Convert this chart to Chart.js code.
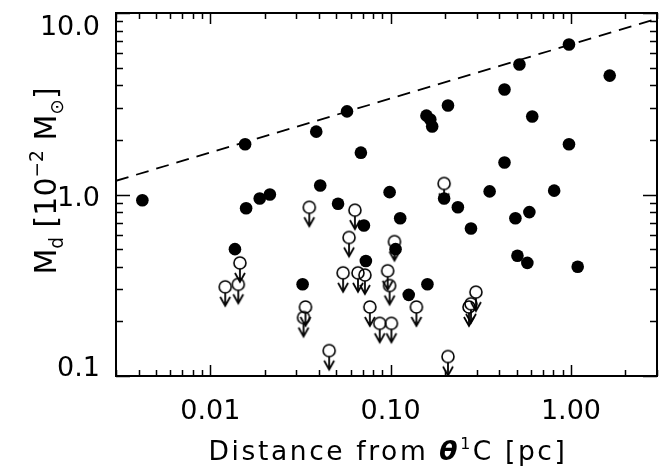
<!DOCTYPE html>
<html>
<head>
<meta charset="utf-8">
<script src="https://cdn.jsdelivr.net/npm/chart.js@4/dist/chart.umd.min.js"></script>
<style>
    html, body { margin: 0; padding: 0; background: #ffffff; }
    #wrap { width: 664px; height: 469px; }
</style>
</head>
<body>
<div id="wrap"><canvas id="mainGraph" width="664" height="469"></canvas></div>
<script>
// disks with a measured dust mass
const detectedDistance = [0.0042, 0.0156, 0.0158, 0.0188, 0.0214, 0.0137, 0.0325, 0.0387, 0.0573, 0.0684,
    0.0407, 0.0511, 0.0987, 0.113, 0.0711, 0.158, 0.166, 0.170, 0.208, 0.198,
    0.236, 0.279, 0.354, 0.428, 0.428, 0.518, 0.610, 0.492, 0.588, 0.807,
    0.975, 0.975, 1.64, 0.0729, 0.1065, 0.126, 0.160, 0.505, 0.573, 1.09]
const detectedMass = [0.93, 1.89, 0.84, 0.95, 1.00, 0.50, 0.32, 2.22, 2.87, 1.70,
    1.12, 0.89, 1.03, 0.74, 0.675, 2.72, 2.59, 2.37, 3.09, 0.95,
    0.85, 0.65, 1.04, 1.50, 3.79, 5.20, 2.69, 0.74, 0.80, 1.05,
    1.89, 6.71, 4.52, 0.43, 0.50, 0.28, 0.32, 0.46, 0.42, 0.40]

// upper limits (open circle + arrow)
const limitDistance = [0.0121, 0.0146, 0.0143, 0.0337, 0.0329, 0.0456, 0.0354, 0.0634, 0.0588, 0.0545,
    0.0659, 0.072, 0.0767, 0.087, 0.101, 0.0963, 0.0987, 0.105, 0.139, 0.208,
    0.198, 0.272, 0.279, 0.297]
const limitMass = [0.31, 0.42, 0.32, 0.24, 0.21, 0.138, 0.85, 0.82, 0.58, 0.37,
    0.37, 0.36, 0.24, 0.195, 0.195, 0.38, 0.315, 0.55, 0.24, 0.128,
    1.15, 0.24, 0.25, 0.29]

// dashed envelope
const lineDistance = [0.003, 3]
const lineMass = [1.19, 9.3]

const xRange = [0.003, 3]
const yRange = [0.1, 10]
const xTickValues = [0.01, 0.1, 1]
const xTickLabels = ["0.01", "0.10", "1.00"]
const yTickValues = [0.1, 1, 10]
const yTickLabels = ["0.1", "1.0", "10.0"]

const lineCanvas = document.getElementById("mainGraph")
const fontFamily = "'DejaVu Sans', sans-serif"

const toPoints = (xs, ys) => xs.map((x, i) => ({x: x, y: ys[i]}))

const isSame = (a, b) => Math.abs(Math.log10(a) - Math.log10(b)) < 1e-6
const isDecade = (v) => Math.abs(Math.log10(v) - Math.round(Math.log10(v))) < 1e-6

const logTicks = (min, max) => {
    const out = []
    for (let e = Math.floor(Math.log10(min)); e <= Math.ceil(Math.log10(max)); e++) {
        for (let k = 1; k < 10; k++) {
            const v = parseFloat((k * Math.pow(10, e)).toPrecision(6))
            if (v >= min * 0.9999 && v <= max * 1.0001) out.push(v)
        }
    }
    return out
}

const makeLimitMarker = () => {
    const c = document.createElement("canvas")
    c.width = 18
    c.height = 46
    const g = c.getContext("2d")
    const cx = 9, cy = 23
    g.strokeStyle = "#000000"
    g.lineWidth = 1.6
    g.beginPath()
    g.arc(cx, cy, 6, 0, Math.PI * 2)
    g.stroke()
    g.lineWidth = 1.8
    g.beginPath()
    g.moveTo(cx, cy + 6)
    g.lineTo(cx, cy + 19)
    g.stroke()
    g.beginPath()
    g.moveTo(cx - 5, cy + 10)
    g.lineTo(cx, cy + 19)
    g.lineTo(cx + 5, cy + 10)
    g.stroke()
    return c
}

// draws a title made of normal / sub / superscript pieces
const drawRich = (ctx, parts, size, spacing, cx, baseline) => {
    let total = 0
    const widths = parts.map((p) => {
        ctx.font = `${p.style || ""} ${size * (p.scale || 1)}px ${fontFamily}`
        ctx.letterSpacing = spacing + "px"
        const w = ctx.measureText(p.text).width
        total += w
        return w
    })
    let x = cx - total / 2
    parts.forEach((p, i) => {
        ctx.font = `${p.style || ""} ${size * (p.scale || 1)}px ${fontFamily}`
        ctx.letterSpacing = spacing + "px"
        ctx.fillText(p.text, x, baseline + (p.shift || 0) * size)
        x += widths[i]
    })
}

const framePlugin = {
    id: "frame",
    afterDraw(chart) {
        const {ctx, chartArea: a, scales} = chart
        ctx.save()
        ctx.strokeStyle = "#000000"
        ctx.lineWidth = 1.5
        ctx.beginPath()
        scales.x.ticks.forEach((t) => {
            const px = Math.round(scales.x.getPixelForValue(t.value)) + 0.5
            const len = isDecade(t.value) ? 11 : 6
            ctx.moveTo(px, a.bottom)
            ctx.lineTo(px, a.bottom - len)
            ctx.moveTo(px, a.top)
            ctx.lineTo(px, a.top + len)
        })
        scales.y.ticks.forEach((t) => {
            const py = Math.round(scales.y.getPixelForValue(t.value)) + 0.5
            const len = isDecade(t.value) ? 14 : 7
            ctx.moveTo(a.left, py)
            ctx.lineTo(a.left + len, py)
            ctx.moveTo(a.right, py)
            ctx.lineTo(a.right - len, py)
        })
        ctx.stroke()
        ctx.lineWidth = 2
        ctx.strokeRect(a.left, a.top, a.right - a.left, a.bottom - a.top)

        ctx.fillStyle = "#000000"
        ctx.textBaseline = "alphabetic"
        ctx.textAlign = "left"
        drawRich(ctx, [
            {text: "Distance from "},
            {text: "θ", style: "italic bold"},
            {text: "1", scale: 0.6, shift: -0.42},
            {text: "C [pc]"}
        ], 26.5, 2.6, 388, 460)

        ctx.save()
        ctx.translate(56, 181)
        ctx.rotate(-Math.PI / 2)
        drawRich(ctx, [
            {text: "M"},
            {text: "d", scale: 0.62, shift: 0.22},
            {text: " [10"},
            {text: "−2", scale: 0.62, shift: -0.42},
            {text: " M"},
            {text: "⊙", scale: 0.62, shift: 0.22},
            {text: "]"}
        ], 30, 0, 0, 0)
        ctx.restore()
        ctx.restore()
    }
}

const chartConfig = {
    data: {
        datasets: [{
            type: "line",
            label: "envelope",
            data: toPoints(lineDistance, lineMass),
            borderColor: "#000000",
            borderWidth: 1.8,
            borderDash: [13, 8],
            pointRadius: 0,
            fill: false
        }, {
            type: "scatter",
            label: "detections",
            data: toPoints(detectedDistance, detectedMass),
            pointRadius: 6.3,
            pointBackgroundColor: "#000000",
            pointBorderWidth: 0
        }, {
            type: "scatter",
            label: "upper limits",
            data: toPoints(limitDistance, limitMass),
            pointStyle: makeLimitMarker(),
            pointRadius: 6
        }]
    },
    options: {
        responsive: false,
        devicePixelRatio: 1,
        animation: false,
        events: [],
        layout: {padding: {top: 13, right: 2, left: 0, bottom: 0}},
        scales: {
            x: {
                type: "logarithmic",
                position: "bottom",
                min: xRange[0],
                max: xRange[1],
                grid: {display: false, drawTicks: false, tickLength: 0},
                border: {display: false},
                afterBuildTicks: (scale) => {
                    scale.ticks = logTicks(xRange[0], xRange[1]).map((v) => ({value: v, major: isDecade(v)}))
                },
                afterFit: (scale) => {
                    scale.height = 93
                    scale.paddingLeft = scale.paddingRight = scale.paddingTop = scale.paddingBottom = 0
                },
                ticks: {
                    autoSkip: false,
                    maxRotation: 0,
                    minRotation: 0,
                    padding: 20,
                    color: "#000000",
                    font: {size: 27, family: fontFamily},
                    callback: (value) => {
                        const i = xTickValues.findIndex((v) => isSame(v, value))
                        return i >= 0 ? xTickLabels[i] : ""
                    }
                }
            },
            y: {
                type: "logarithmic",
                position: "left",
                min: yRange[0],
                max: yRange[1],
                grid: {display: false, drawTicks: false, tickLength: 0},
                border: {display: false},
                afterBuildTicks: (scale) => {
                    scale.ticks = logTicks(yRange[0], yRange[1]).map((v) => ({value: v, major: isDecade(v)}))
                },
                afterFit: (scale) => {
                    scale.width = 116
                    scale.paddingLeft = scale.paddingRight = scale.paddingTop = scale.paddingBottom = 0
                },
                ticks: {
                    autoSkip: false,
                    padding: 16,
                    labelOffset: 4,
                    color: "#000000",
                    font: {size: 27, family: fontFamily, lineHeight: "22px"},
                    callback: (value) => {
                        const i = yTickValues.findIndex((v) => isSame(v, value))
                        if (i < 0) return ""
                        // keep the end labels inside the frame, like the original
                        if (i === 0) return [yTickLabels[i], ""]
                        if (i === yTickValues.length - 1) return ["", yTickLabels[i]]
                        return yTickLabels[i]
                    }
                }
            }
        },
        plugins: {
            legend: {display: false},
            tooltip: {enabled: false}
        }
    },
    plugins: [framePlugin]
}

new Chart(lineCanvas, chartConfig)
</script>
</body>
</html>
